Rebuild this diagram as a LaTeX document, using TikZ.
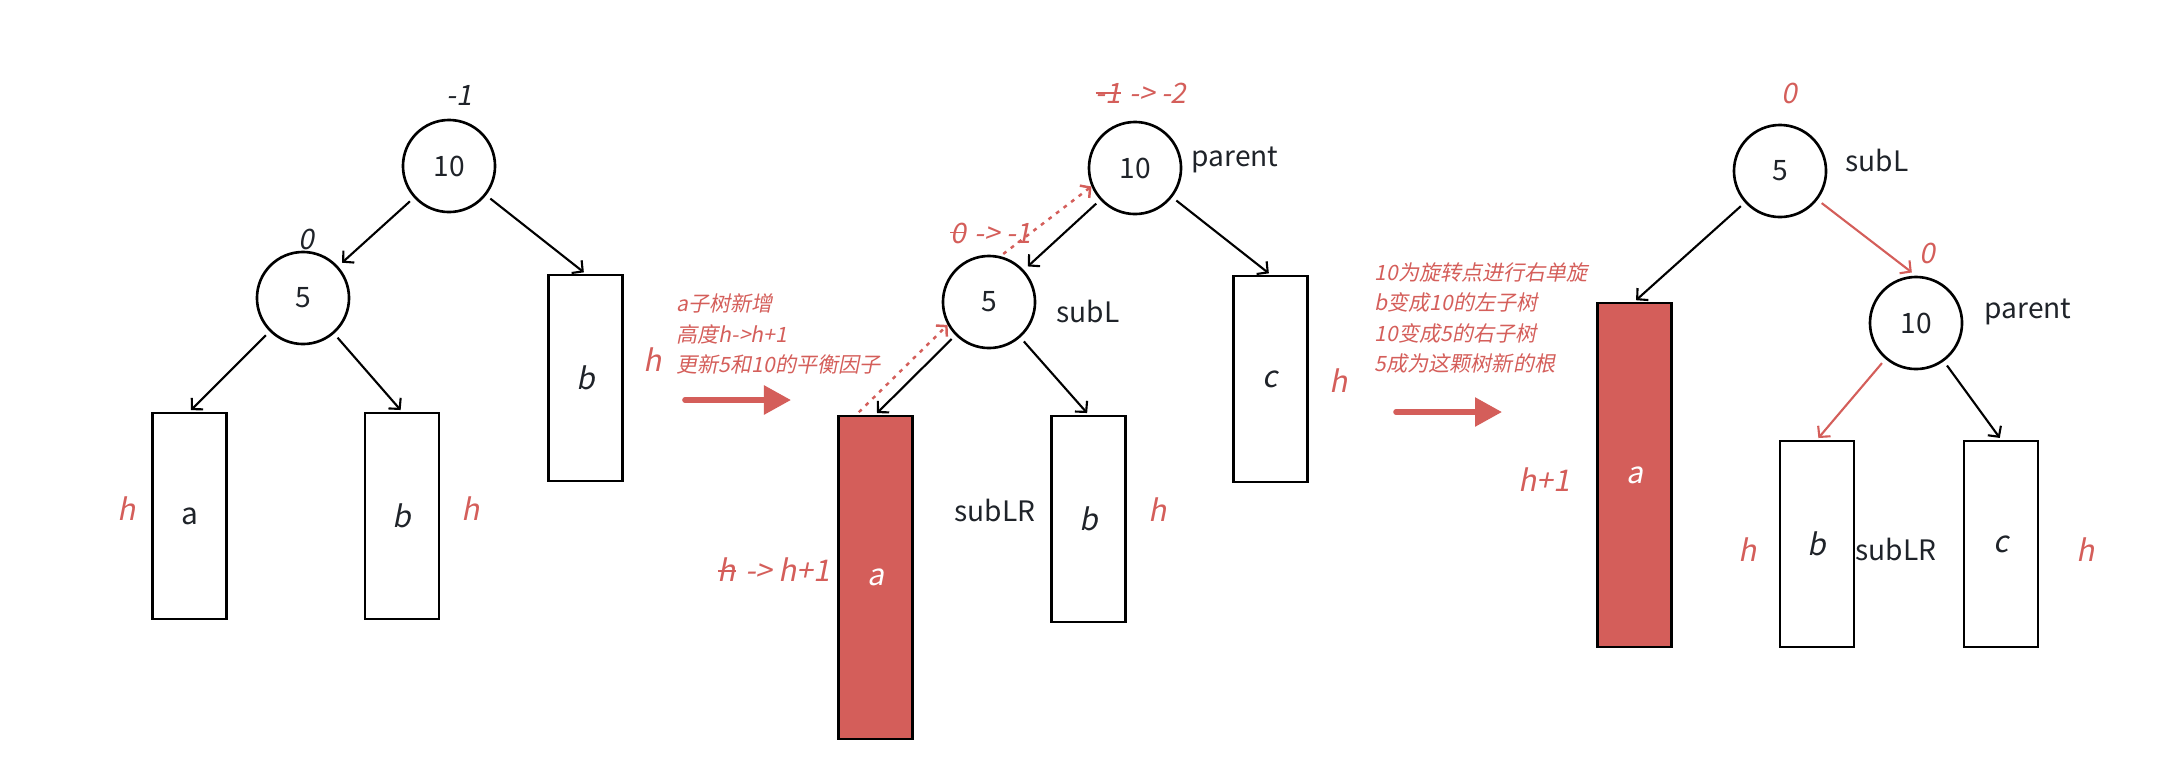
\documentclass[tikz,border=0pt]{standalone}
\usepackage{fontspec}
\setmainfont{Noto Sans CJK SC}[ItalicFont={Noto Sans CJK SC}, ItalicFeatures={FakeSlant=0.2}]
\usepackage{xcolor}
\usetikzlibrary{arrows.meta, calc}
\definecolor{avlred}{RGB}{212,94,90}
\definecolor{ink}{RGB}{31,35,41}
\newcommand\struck[1]{\setbox0\hbox{#1}\rlap{\rule[0.34em]{\wd0}{0.5pt}}\box0\hspace{0.3em}}

\tikzset{
  keynode/.style={circle, draw=black, line width=0.75pt, minimum size=0.92cm, inner sep=0pt, text=ink, font=\fontsize{8}{10}\selectfont},
  subtree/.style={draw=black, line width=0.75pt, minimum width=0.74cm, minimum height=2.06cm, inner sep=0pt, text=ink, font=\fontsize{8.5}{10}\selectfont\itshape},
  grown/.style={subtree, fill=avlred, text=white},
  upright/.style={font=\fontsize{8.5}{10}\selectfont},
  ptrlabel/.style={text=ink, font=\fontsize{8}{10}\selectfont},
  bfac/.style={text=ink, font=\fontsize{8}{10}\selectfont\itshape},
  redbfac/.style={bfac, text=avlred},
  hlabel/.style={text=avlred, font=\fontsize{8.5}{10}\selectfont\itshape},
  remark/.style={text=avlred, align=left, anchor=west, inner sep=0pt, font=\fontsize{6}{8.6}\selectfont\itshape},
  link/.style={-{Straight Barb[length=2.2pt,width=4.6pt]}, line width=0.6pt, shorten <=1.5pt, shorten >=0.6pt},
  tonode/.style={shorten >=1.5pt},
  hint/.style={draw=avlred, line width=0.7pt, dash pattern=on 1.1pt off 1.6pt, -{Straight Barb[length=2pt,width=4.4pt]}, shorten <=1pt},
  bigarrow/.style={draw=avlred, line width=1.6pt, line cap=round, -{Triangle[length=0.27cm,width=0.28cm]}}
}

\begin{document}
\begin{tikzpicture}[x=0.01cm, y=-0.01cm]
\useasboundingbox (0,0) rectangle (2167,775);

%before insert
\node[keynode] (L10) at (449,166) {10};
\node[keynode] (L5) at (303,298) {5};
\node[subtree, upright] (La) at (189.5,516) {a};
\node[subtree] (Lb) at (402,516) {b};
\node[subtree] (Lc) at (585.5,378) {b};
\node[bfac] (Lbf10) at (459,95) {-1};
\node[bfac] (Lbf5) at (306,239) {0};
\node[hlabel] (Lha) at (127,509) {h};
\node[hlabel] (Lhb) at (471,509) {h};
\node[hlabel] (Lhc) at (653,360) {h};

\draw[link, tonode] (L10) -- (L5);
\draw[link] (L10) -- (Lc.north);
\draw[link] (L5) -- (La.north);
\draw[link] (L5) -- (Lb.north);

%after insert
\node[keynode] (M10) at (1135,168) {10};
\node[keynode] (M5) at (989,302) {5};
\node[grown, minimum height=3.23cm] (Ma) at (875.5,577.5) {a};
\node[subtree] (Mb) at (1088.5,519) {b};
\node[subtree] (Mc) at (1270.5,379) {c};
\node[ptrlabel] (Mparent) at (1235,160) {parent};
\node[ptrlabel] (MsubL) at (1088,311) {subL};
\node[ptrlabel] (MsubLR) at (995,510) {subLR};
\node[redbfac] (Mbf10) at (1141,93) {\struck{-1}-> -2};
\node[redbfac] (Mbf5) at (991,233) {\struck{0}-> -1};
\node[hlabel] (Mha) at (774,570) {\struck{h}-> h+1};
\node[hlabel] (Mhb) at (1158,510) {h};
\node[hlabel] (Mhc) at (1339,381) {h};
\node[remark] (Mnote) at (676,334) {a子树新增\\高度h->h+1\\更新5和10的平衡因子};

\draw[link, tonode] (M10) -- (M5);
\draw[link] (M10) -- (Mc.north);
\draw[link] (M5) -- (Ma.north);
\draw[link] (M5) -- (Mb.north);
\coordinate (grow) at ($(Ma.north west)!0.25!(Ma.north east)$);
\draw[hint] (grow) -- (M5.209);
\draw[hint] (M5.76) -- (M10.203);

%after rotate
\node[keynode] (R5) at (1780,171) {5};
\node[keynode] (R10) at (1916,323) {10};
\node[grown, minimum height=3.44cm] (Ra) at (1634.5,475) {a};
\node[subtree] (Rb) at (1817,544) {b};
\node[subtree] (Rc) at (2001,544) {c};
\node[ptrlabel] (RsubL) at (1877,160) {subL};
\node[ptrlabel] (Rparent) at (2028,312) {parent};
\node[ptrlabel] (RsubLR) at (1896,549) {subLR};
\node[redbfac] (Rbf5) at (1789,93) {0};
\node[redbfac] (Rbf10) at (1927,253) {0};
\node[hlabel] (Rha) at (1544,480) {h+1};
\node[hlabel] (Rhb) at (1748,550) {h};
\node[hlabel] (Rhc) at (2086,550) {h};
\node[remark] (Rnote) at (1374,318) {10为旋转点进行右单旋\\b变成10的左子树\\10变成5的右子树\\5成为这颗树新的根};

\draw[link] (R5) -- (Ra.north);
\draw[link, tonode, avlred] (R5) -- (R10.north);
\draw[link, avlred] (R10) -- (Rb.north);
\draw[link] (R10) -- (Rc.north);

\foreach \x/\y in {685/400, 1396/412}{
  \draw[bigarrow] (\x,\y) -- ++(106,0);
}

\end{tikzpicture}
\end{document}
